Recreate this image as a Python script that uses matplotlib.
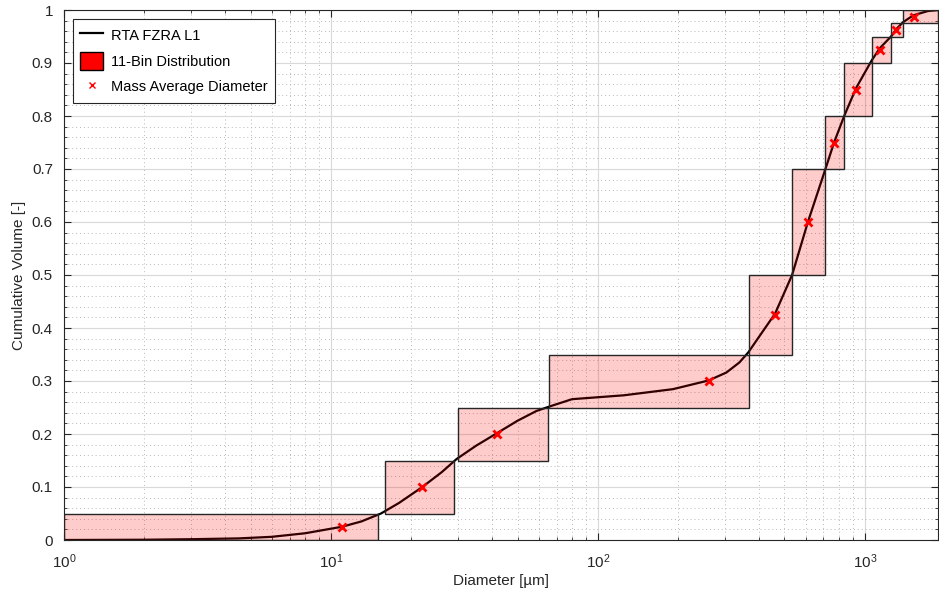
import numpy as np
import matplotlib
matplotlib.use('Agg')
from matplotlib import pyplot as plt
from matplotlib.patches import Rectangle, Patch
from matplotlib.lines import Line2D
from matplotlib.ticker import LogLocator, MultipleLocator, FormatStrFormatter

plt.rcParams['font.family'] = ['Liberation Sans', 'DejaVu Sans']

# cumulative volume curve
diam = [1, 2, 3, 4.5, 6, 8, 11, 13, 15.4, 18, 22, 26, 29.6, 35, 41.7, 50, 58.9, 66, 80,
        125, 191, 260, 303, 339, 366, 410, 461, 534, 612, 712, 767, 837, 928, 1060,
        1138, 1254, 1315, 1391, 1520, 1722, 1880]
cumvol = [0, 0.0005, 0.0015, 0.003, 0.006, 0.0127, 0.025, 0.035, 0.05, 0.07, 0.1, 0.128,
          0.153, 0.178, 0.201, 0.225, 0.2435, 0.252, 0.2657, 0.273, 0.2846, 0.301, 0.316,
          0.335, 0.354, 0.39, 0.427, 0.5, 0.6, 0.7, 0.75, 0.8, 0.853, 0.9045, 0.928, 0.95,
          0.9646, 0.977, 0.99, 0.998, 1.0]

# 11 bins
bin_left = [1, 16.0, 29.8, 65.7, 366.7, 534, 712, 836.6, 1059.5, 1254, 1391]
bin_right = [15.0, 29.0, 64.8, 366.7, 534, 712, 836.6, 1059.5, 1254, 1391, 1880]
bin_low = [0, 0.05, 0.15, 0.25, 0.35, 0.5, 0.7, 0.8, 0.9, 0.95, 0.975]
bin_high = [0.05, 0.15, 0.25, 0.35, 0.5, 0.7, 0.8, 0.9, 0.95, 0.975, 1.0]

# mass average diameters
mad_d = [10.96, 22, 41.8, 260, 461, 612, 767, 928, 1138, 1310, 1522]
mad_v = [0.025, 0.1, 0.2, 0.3, 0.425, 0.6, 0.75, 0.85, 0.925, 0.9625, 0.9875]

fig = plt.figure(figsize=(9.39, 5.94), dpi=100)
ax = fig.add_axes([64/939, 54/594, (938-64)/939, (540-10)/594])

ax.plot(diam, cumvol, color='k', lw=1.6, zorder=3)

for l, r, lo, hi in zip(bin_left, bin_right, bin_low, bin_high):
    ax.add_patch(Rectangle((l, lo), r - l, hi - lo, facecolor=(1, 0, 0, 0.2),
                           edgecolor=(0.15, 0.15, 0.15), lw=1.0, zorder=4))

ax.plot(mad_d, mad_v, 'x', color='red', ms=6, mew=2, zorder=5)

ax.set_xscale('log')
ax.set_xlim(1, 1880)
ax.set_ylim(0, 1)
ax.xaxis.set_major_locator(LogLocator(base=10, numticks=10))
ax.xaxis.set_minor_locator(LogLocator(base=10, subs=np.arange(2, 10), numticks=10))
ax.yaxis.set_major_locator(MultipleLocator(0.1))
ax.yaxis.set_minor_locator(MultipleLocator(0.02))
ax.yaxis.set_major_formatter(FormatStrFormatter('%g'))

ax.grid(True, which='major', color=(0.85, 0.85, 0.85), lw=0.8, zorder=0)
ax.grid(True, which='minor', color=(0.72, 0.72, 0.72), lw=0.7, ls=(0, (1, 3)), zorder=0)
ax.set_axisbelow(True)

ax.tick_params(which='both', direction='in', top=True, right=True, colors=(0.15, 0.15, 0.15),
               labelsize=11)
ax.tick_params(axis='x', which='major', pad=9)
ax.tick_params(axis='y', which='major', pad=8)
ax.tick_params(which='major', length=5)
ax.tick_params(which='minor', length=2.5)
for s in ax.spines.values():
    s.set_color((0.15, 0.15, 0.15))

ax.set_xlabel('Diameter [µm]', fontsize=11, color=(0.15, 0.15, 0.15), labelpad=2)
ax.set_ylabel('Cumulative Volume [-]', fontsize=11, color=(0.15, 0.15, 0.15), labelpad=4)

handles = [Line2D([], [], color='k', lw=1.6),
           Patch(facecolor='red', edgecolor='k'),
           Line2D([], [], ls='', marker='x', color='red', ms=4, mew=1)]
labels = ['RTA FZRA L1', '11-Bin Distribution', 'Mass Average Diameter']
leg = ax.legend(handles, labels, loc='upper left', fontsize=10.5, fancybox=False,
                edgecolor=(0.15, 0.15, 0.15), framealpha=1, borderaxespad=0.6,
                handlelength=1.6, handleheight=1.5, handletextpad=0.5, labelspacing=0.55,
                borderpad=0.5)
leg.get_frame().set_linewidth(0.8)

fig.savefig('out.png', dpi=100)
